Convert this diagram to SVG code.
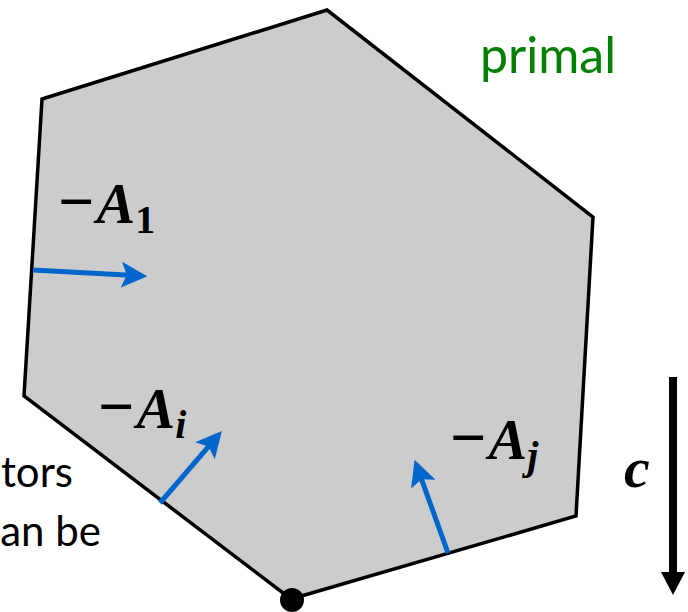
<svg xmlns="http://www.w3.org/2000/svg" width="688" height="612" viewBox="0 0 688 612">
<style>
.caption{font-family:Lato,"Open Sans","Liberation Sans",sans-serif;font-size:42px;fill:#000}
.primal{font-family:Lato,"Open Sans","Liberation Sans",sans-serif;font-size:50px;fill:#008000}
.math{font-family:"Liberation Serif","DejaVu Serif",serif;font-weight:bold;font-size:58px;fill:#000}
.minus{font-size:64px}
.mi{font-style:italic}
.sub{font-size:40px}
.vec{stroke:#0066CC;stroke-width:5;fill:none}
.poly{fill:#CCCCCC;stroke:#000;stroke-width:3.5;stroke-linejoin:miter}
</style>
<defs>
<marker id="bh" markerUnits="userSpaceOnUse" markerWidth="26" markerHeight="26" refX="8" refY="12" orient="auto" viewBox="0 0 24 24">
<path d="M0,0 L24,12 L0,24 L5,12 Z" fill="#0066CC"/>
</marker>
</defs>
<g id="caption-text">
<text class="caption" x="73" y="487" text-anchor="end">tors</text>
<text class="caption" x="101" y="546" text-anchor="end" font-size="41">an be</text>
</g>
<g id="polytope">
<polygon class="poly" points="42,99 327,10 593,217 576,516 291,599 24,396"/>
<circle cx="292" cy="600" r="12" fill="#000"/>
</g>
<g id="label-primal">
<text class="primal" x="480" y="73">primal</text>
</g>
<g id="connectors">
<line class="vec" x1="33" y1="270" x2="130" y2="275.2" marker-end="url(#bh)"/>
<line class="vec" x1="160" y1="503" x2="210.6" y2="444.1" marker-end="url(#bh)"/>
<line class="vec" x1="448" y1="553" x2="420.4" y2="476.1" marker-end="url(#bh)"/>
<line x1="673" y1="377" x2="673" y2="574" stroke="#000" stroke-width="8"/>
<polygon points="661,572 685,572 673,595" fill="#000"/>
</g>
<g id="label-A1">
<text class="math" x="58" y="223"><tspan class="minus">−</tspan><tspan class="mi" dx="2">A</tspan><tspan class="sub" dy="10">1</tspan></text>
</g>
<g id="label-Ai">
<text class="math" x="98" y="428"><tspan class="minus">−</tspan><tspan class="mi" dx="2">A</tspan><tspan class="mi sub" dy="10">i</tspan></text>
</g>
<g id="label-Aj">
<text class="math" x="450" y="459"><tspan class="minus">−</tspan><tspan class="mi" dx="2">A</tspan><tspan class="mi sub" dy="10">j</tspan></text>
</g>
<g id="label-c">
<text class="math mi" x="624" y="487" font-size="62">c</text>
</g>
</svg>
